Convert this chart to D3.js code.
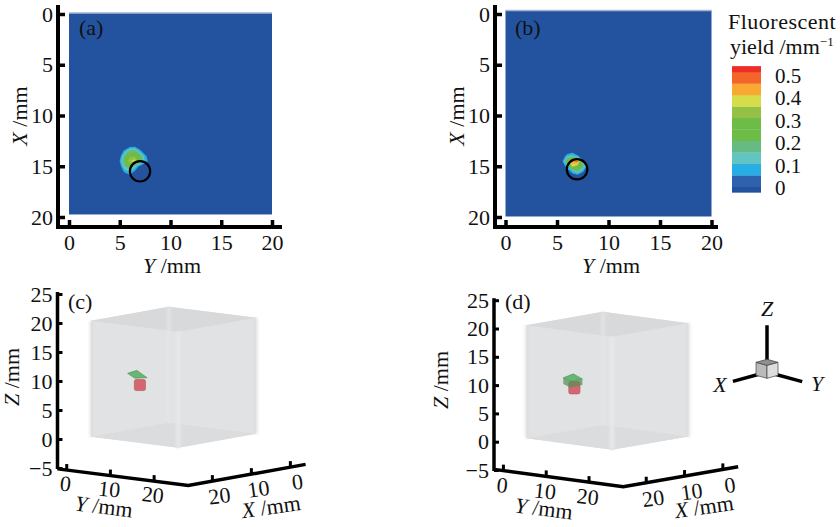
<!DOCTYPE html>
<html>
<head>
<meta charset="utf-8">
<script src="https://cdn.jsdelivr.net/npm/d3@7"></script>
<style>
  body { margin: 0; background: #fff; }
  text { font-family: "Liberation Serif", serif; fill: #111; }
</style>
</head>
<body>
<script>
// tick values
var mapTicks = [0, 5, 10, 15, 20];
var zTicks = [-5, 0, 5, 10, 15, 20, 25];
var floorTicks = [0, 10, 20];

var gridY = [4.5, 5, 5.5, 6, 6.5, 7, 7.5, 8, 8.5];
var gridX = [12.5, 13, 13.5, 14, 14.5, 15, 15.5, 16, 16.5];
var yieldA = [
  [0, 0, 0, 0, 0, 0, 0, 0, 0],
  [0, 0, 0, 0.02, 0.03, 0, 0, 0, 0],
  [0, 0, 0.08, 0.2, 0.2, 0.08, 0, 0, 0],
  [0, 0.02, 0.2, 0.3, 0.3, 0.22, 0.08, 0, 0],
  [0, 0.06, 0.24, 0.36, 0.4, 0.26, 0.1, 0.02, 0],
  [0, 0.02, 0.17, 0.26, 0.14, 0.03, 0, 0, 0],
  [0, 0, 0.08, 0.12, 0.05, 0, 0, 0, 0],
  [0, 0, 0, 0.03, 0, 0, 0, 0, 0],
  [0, 0, 0, 0, 0, 0, 0, 0, 0]
];
var yieldB = [
  [0, 0, 0, 0, 0, 0, 0, 0, 0],
  [0, 0, 0, 0, 0, 0, 0, 0, 0],
  [0, 0, 0, 0, 0.02, 0, 0, 0, 0],
  [0, 0, 0, 0.1, 0.14, 0.07, 0, 0, 0],
  [0, 0, 0.04, 0.28, 0.46, 0.5, 0.08, 0, 0],
  [0, 0, 0, 0.1, 0.38, 0.3, 0.22, 0.01, 0],
  [0, 0, 0, 0.01, 0.1, 0.18, 0.07, 0, 0],
  [0, 0, 0, 0, 0, 0, 0, 0, 0],
  [0, 0, 0, 0, 0, 0, 0, 0, 0]
];

// true target position on the maps: Y, X, radius in mm
var circleA = [7.0, 15.5, 1];
var circleB = [6.95, 15.3, 1];

// colour bar
var bandEdges = [-0.018, 0.007, 0.058, 0.109, 0.16, 0.211, 0.262, 0.313, 0.364, 0.415, 0.466, 0.517, 0.543];
var bandColors = ["#23509f", "#2f62ad", "#27aee4", "#62c5c4", "#66bb85", "#6cbc47", "#6cbc47", "#94c145", "#d5dd4a", "#f9a832", "#f36528", "#ee2d26"];
var barTicks = [0, 0.1, 0.2, 0.3, 0.4, 0.5];

// reconstructed target, [X, Y] corners of the plate and cylinder position
var plateC = [[11.6, 0.9], [8.1, -0.1], [13.2, 6.8], [15.0, 5.6]];
var plateD = [[17.3, 6.2], [12.8, 4.5], [16.0, 9.5], [19.4, 9.7]];
var plateZ = [10, 11];
var cylC = { X: 15.5, Y: 7.2, z0: 8.1, z1: 10 };
var cylD = { X: 15.3, Y: 7.0, z0: 8, z1: 10.2 };

var svg = d3.select("body").append("svg")
  .attr("width", 840)
  .attr("height", 527);

var defs = svg.append("defs");
defs.append("filter").attr("id", "soft").attr("x", "-20%").attr("y", "-20%").attr("width", "140%").attr("height", "140%")
  .append("feGaussianBlur").attr("stdDeviation", 0.5);
defs.append("filter").attr("id", "soft2").attr("x", "-5%").attr("y", "-5%").attr("width", "110%").attr("height", "110%")
  .append("feGaussianBlur").attr("stdDeviation", 1.4);

function bandColor(v) {
  var i = d3.bisectRight(bandEdges, v) - 1;
  return bandColors[Math.max(0, Math.min(i, bandColors.length - 1))];
}

function styleAxis(g, tw) {
  g.select(".domain").remove();
  g.selectAll(".tick line").attr("stroke", "#000").attr("stroke-width", tw);
  g.selectAll(".tick text").attr("font-size", 22).attr("font-family", "Liberation Serif").attr("fill", "#111");
}

function axisTitle(g, letter, x, y, rot) {
  var t = g.append("text")
    .attr("transform", "translate(" + x + "," + y + ") rotate(" + rot + ")")
    .attr("text-anchor", "middle")
    .attr("font-size", 22);
  t.append("tspan").attr("font-style", "italic").text(letter);
  t.append("tspan").text(" /mm");
}

function panelLetter(s, x, y) {
  svg.append("text").attr("x", x).attr("y", y).attr("font-size", 22).text(s);
}

// (a) (b) maps
function drawMap(opt) {
  var x = d3.scaleLinear().domain([0, 20]).range(opt.xr);
  var y = d3.scaleLinear().domain([0, 20]).range([14, 217]);
  var g = svg.append("g");

  g.append("rect")
    .attr("x", x(0)).attr("y", y(opt.top))
    .attr("width", x(20) - x(0)).attr("height", y(opt.bottom) - y(opt.top))
    .attr("fill", "#23539f");
  g.append("line")
    .attr("x1", x(0)).attr("x2", x(20)).attr("y1", y(opt.top)).attr("y2", y(opt.top))
    .attr("stroke", "#aab4d2").attr("stroke-width", 1.5);

  var values = [];
  opt.grid.forEach(function(row) { row.forEach(function(v) { values.push(v); }); });
  var contours = d3.contours()
    .size([gridY.length, gridX.length])
    .thresholds(bandEdges.slice(2, 12))(values);
  var path = d3.geoPath(d3.geoTransform({
    point: function(a, b) {
      this.stream.point(x(gridY[0] + (a - 0.5) * 0.5), y(gridX[0] + (b - 0.5) * 0.5));
    }
  }));
  g.append("g").attr("filter", "url(#soft)")
    .selectAll("path").data(contours).enter().append("path")
    .attr("d", path)
    .attr("fill", function(d) { return bandColor(d.value + 0.001); });

  g.append("ellipse")
    .attr("cx", x(opt.circle[0])).attr("cy", y(opt.circle[1]))
    .attr("rx", x(opt.circle[2]) - x(0)).attr("ry", y(opt.circle[2]) - y(0))
    .attr("fill", "none").attr("stroke", "#000").attr("stroke-width", 2.2);

  var left = g.append("g").attr("transform", "translate(" + opt.ax + ",0)")
    .call(d3.axisLeft(y).tickValues(mapTicks).tickSizeInner(-7).tickSizeOuter(0).tickPadding(5));
  styleAxis(left, 3.5);
  var bottom = g.append("g").attr("transform", "translate(0,227)")
    .call(d3.axisBottom(x).tickValues(mapTicks).tickSizeInner(-7).tickSizeOuter(0).tickPadding(7));
  styleAxis(bottom, 3.5);

  g.append("line").attr("x1", opt.ax).attr("x2", opt.ax).attr("y1", 5).attr("y2", 229)
    .attr("stroke", "#000").attr("stroke-width", 4);
  g.append("line").attr("x1", opt.ax).attr("x2", opt.axEnd).attr("y1", 227).attr("y2", 227)
    .attr("stroke", "#000").attr("stroke-width", 4);

  axisTitle(g, "X", opt.titleX, 116, -90);
  axisTitle(g, "Y", opt.titleY, 273, 0);
}

drawMap({ xr: [69, 272], ax: 58, axEnd: 282, top: -0.1, bottom: 19.75, grid: yieldA, circle: circleA, titleX: 27, titleY: 172 });
drawMap({ xr: [505.5, 711.5], ax: 495, axEnd: 718, top: -0.35, bottom: 19.95, grid: yieldB, circle: circleB, titleX: 464, titleY: 611 });
panelLetter("(a)", 79, 35);
panelLetter("(b)", 515, 35);

// colour bar
var barScale = d3.scaleLinear().domain([0, 0.5]).range([188.3, 75.8]);
var bar = svg.append("g");
bar.selectAll("rect").data(bandColors).enter().append("rect")
  .attr("x", 732).attr("width", 29)
  .attr("y", function(d, i) { return barScale(bandEdges[i + 1]); })
  .attr("height", function(d, i) { return barScale(bandEdges[i]) - barScale(bandEdges[i + 1]) + 0.3; })
  .attr("fill", function(d) { return d; });
bar.selectAll("text").data(barTicks).enter().append("text")
  .attr("x", 775).attr("y", function(d) { return barScale(d); })
  .attr("dy", "0.34em").attr("font-size", 21)
  .text(function(d) { return d; });
svg.append("text").attr("x", 728).attr("y", 29).attr("font-size", 22).attr("letter-spacing", 0.5).text("Fluorescent");
var sub = svg.append("text").attr("x", 730).attr("y", 54).attr("font-size", 22);
sub.append("tspan").text("yield /mm");
sub.append("tspan").attr("font-size", 13).attr("dy", -8).text("\u22121");

// (c) (d) boxes
function drawBox(opt) {
  function project(X, Y, Z) {
    return [opt.a + opt.kY * Y - opt.kX * X, opt.b + opt.sY * Y + opt.sX * X - opt.kZ * Z];
  }
  var line = d3.line();
  var g = svg.append("g");

  var cube = g.append("g").attr("filter", "url(#soft)");
  cube.append("path")
    .attr("d", line([project(20, 0, 20), project(0, 0, 20), project(0, 20, 20), project(0, 20, 0), project(20, 20, 0), project(20, 0, 0)]) + "Z")
    .attr("fill", "#e1e2e3");
  cube.append("path")
    .attr("d", line([project(20, 0, 20), project(0, 0, 20), project(0, 20, 20), project(20, 20, 20)]) + "Z")
    .attr("fill", "#d8d9da");
  cube.append("path")
    .attr("d", line([project(20, 0, 0), project(0, 0, 0), project(0, 20, 0), project(20, 20, 0)]) + "Z")
    .attr("fill", "#dbdcdd");
  // soft edges of the box
  var edges = g.append("g").attr("filter", "url(#soft2)").attr("fill", "none");
  edges.append("path").attr("d", line([project(20, 20, 20), project(20, 20, 0)])).attr("stroke", "#e8e9e9").attr("stroke-width", 4);
  edges.append("path").attr("d", line([project(0, 0, 20), project(0, 0, 0)])).attr("stroke", "#e4e5e5").attr("stroke-width", 3);
  edges.append("path").attr("d", line([project(20, 0, 20), project(20, 0, 0)])).attr("stroke", "#d8d9da").attr("stroke-width", 2);
  edges.append("path").attr("d", line([project(0, 20, 20), project(0, 20, 0)])).attr("stroke", "#d8d9da").attr("stroke-width", 2);

  // target
  var t = g.append("g").attr("filter", "url(#soft)").attr("opacity", 0.95);
  var c0 = project(opt.cyl.X, opt.cyl.Y, opt.cyl.z0);
  var c1 = project(opt.cyl.X, opt.cyl.Y, opt.cyl.z1);
  t.append("rect").attr("x", c0[0] - 5.6).attr("y", c1[1]).attr("width", 11.2).attr("height", c0[1] - c1[1])
    .attr("rx", 2).attr("fill", "#d55f6b").attr("stroke", "#a5505a").attr("stroke-width", 0.6);
  var plate = opt.plate.map(function(p) { return project(p[0], p[1], opt.plateZ); });
  if (opt.thick) {
    var low = opt.plate.map(function(p) { return project(p[0], p[1], opt.plateZ - opt.thick); });
    t.append("path")
      .attr("d", line([plate[0], plate[3], plate[2], low[2], low[3], low[0]]) + "Z")
      .attr("fill", "#4c8f4a").attr("fill-opacity", 0.72);
  }
  t.append("path").attr("d", line(plate) + "Z")
    .attr("fill", "#5fb56c").attr("stroke", "#3f7d4a").attr("stroke-width", 0.5);

  // z axis
  var z = d3.scaleLinear().domain([0, 20]).range([opt.z0, opt.z0 - 20 * opt.kZ]);
  var zAxis = g.append("g").attr("transform", "translate(" + opt.ax + ",0)")
    .call(d3.axisLeft(z).tickValues(zTicks).tickSizeInner(-5).tickSizeOuter(0).tickPadding(5));
  styleAxis(zAxis, 3);
  g.append("line").attr("x1", opt.ax).attr("x2", opt.ax).attr("y1", z(25) - 2).attr("y2", z(-5) + 1)
    .attr("stroke", "#000").attr("stroke-width", 3.5);

  // floor axes
  g.append("path")
    .attr("d", line([project(opt.Xm, opt.yStart, -5), project(opt.Xm, opt.Ym, -5), project(opt.xEnd, opt.Ym, -5)]))
    .attr("fill", "none").attr("stroke", "#000").attr("stroke-width", 3.5);
  floorTicks.forEach(function(v, i) {
    var pY = project(opt.Xm, v, -5);
    var pX = project(v, opt.Ym, -5);
    g.append("line").attr("x1", pY[0]).attr("x2", pY[0]).attr("y1", pY[1]).attr("y2", pY[1] - 6)
      .attr("stroke", "#000").attr("stroke-width", 3);
    g.append("line").attr("x1", pX[0]).attr("x2", pX[0]).attr("y1", pX[1]).attr("y2", pX[1] - 6)
      .attr("stroke", "#000").attr("stroke-width", 3);
    g.append("text")
      .attr("transform", "translate(" + (pY[0] + opt.labY[0]) + "," + (pY[1] + opt.labY[1]) + ") rotate(6)")
      .attr("text-anchor", "middle").attr("font-size", 22).text(v);
    g.append("text")
      .attr("transform", "translate(" + (pX[0] + opt.labX[0]) + "," + (pX[1] + opt.labX[1]) + ") rotate(-8)")
      .attr("text-anchor", "middle").attr("font-size", 22).text(v);
  });

  axisTitle(g, "Z", opt.titleZ[0], opt.titleZ[1], -90);
  axisTitle(g, "Y", opt.titleY[0], opt.titleY[1], 7);
  axisTitle(g, "X", opt.titleXp[0], opt.titleXp[1], -8);
}

drawBox({
  a: 168.9, b: 422.7, kY: 4.37, kX: 3.9, sY: 0.555, sX: 0.7, kZ: 5.8,
  z0: 439, ax: 57.5, Xm: 26.2, Ym: 27.8, yStart: -2.1, xEnd: -3.9,
  labY: [-2, 21], labX: [8, 22],
  plate: plateC, plateZ: plateZ[0], cyl: cylC, thick: 0,
  titleZ: [19, 377], titleY: [103, 514], titleXp: [272, 514]
});
drawBox({
  a: 603, b: 425, kY: 4.28, kX: 3.83, sY: 0.575, sX: 0.667, kZ: 5.66,
  z0: 441.7, ax: 494, Xm: 26, Ym: 28, yStart: -2.2, xEnd: -4,
  labY: [-2, 22], labX: [8, 23],
  plate: plateD, plateZ: plateZ[1], cyl: cylD, thick: 1.1,
  titleZ: [448, 380], titleY: [543, 516], titleXp: [705, 514]
});
panelLetter("(c)", 68, 309);
panelLetter("(d)", 505, 309);

// orientation triad
function tri(X, Y, Z) { return [767 + 5.5 * Y - 5.5 * X, 368.8 + 1.5 * Y + 1.5 * X - 6.5 * Z]; }
var triLine = d3.line();
var triad = svg.append("g");
[[0, 0, 1, 0, 0, 6.7], [0, 0, -0.5, 6.2, 0, -0.5], [0, 0, -0.5, 0, 6.4, -0.5]].forEach(function(a) {
  triad.append("path").attr("d", triLine([tri(a[0], a[1], a[2]), tri(a[3], a[4], a[5])]))
    .attr("stroke", "#000").attr("stroke-width", 3.5).attr("fill", "none");
});
var triFaces = [
  { c: "#b9babc", p: [[1, -1, 1], [1, 1, 1], [1, 1, -1], [1, -1, -1]] },
  { c: "#dcddde", p: [[1, 1, 1], [-1, 1, 1], [-1, 1, -1], [1, 1, -1]] },
  { c: "#8f9091", p: [[1, -1, 1], [-1, -1, 1], [-1, 1, 1], [1, 1, 1]] }
];
triFaces.forEach(function(f) {
  triad.append("path")
    .attr("d", triLine(f.p.map(function(q) { return tri(q[0], q[1], q[2]); })) + "Z")
    .attr("fill", f.c).attr("stroke", "#444").attr("stroke-width", 0.7);
});
[["Z", 767, 316], ["X", 720, 392], ["Y", 817, 391]].forEach(function(d) {
  triad.append("text").attr("x", d[1]).attr("y", d[2]).attr("text-anchor", "middle")
    .attr("font-size", 22).attr("font-style", "italic").text(d[0]);
});
</script>
</body>
</html>
